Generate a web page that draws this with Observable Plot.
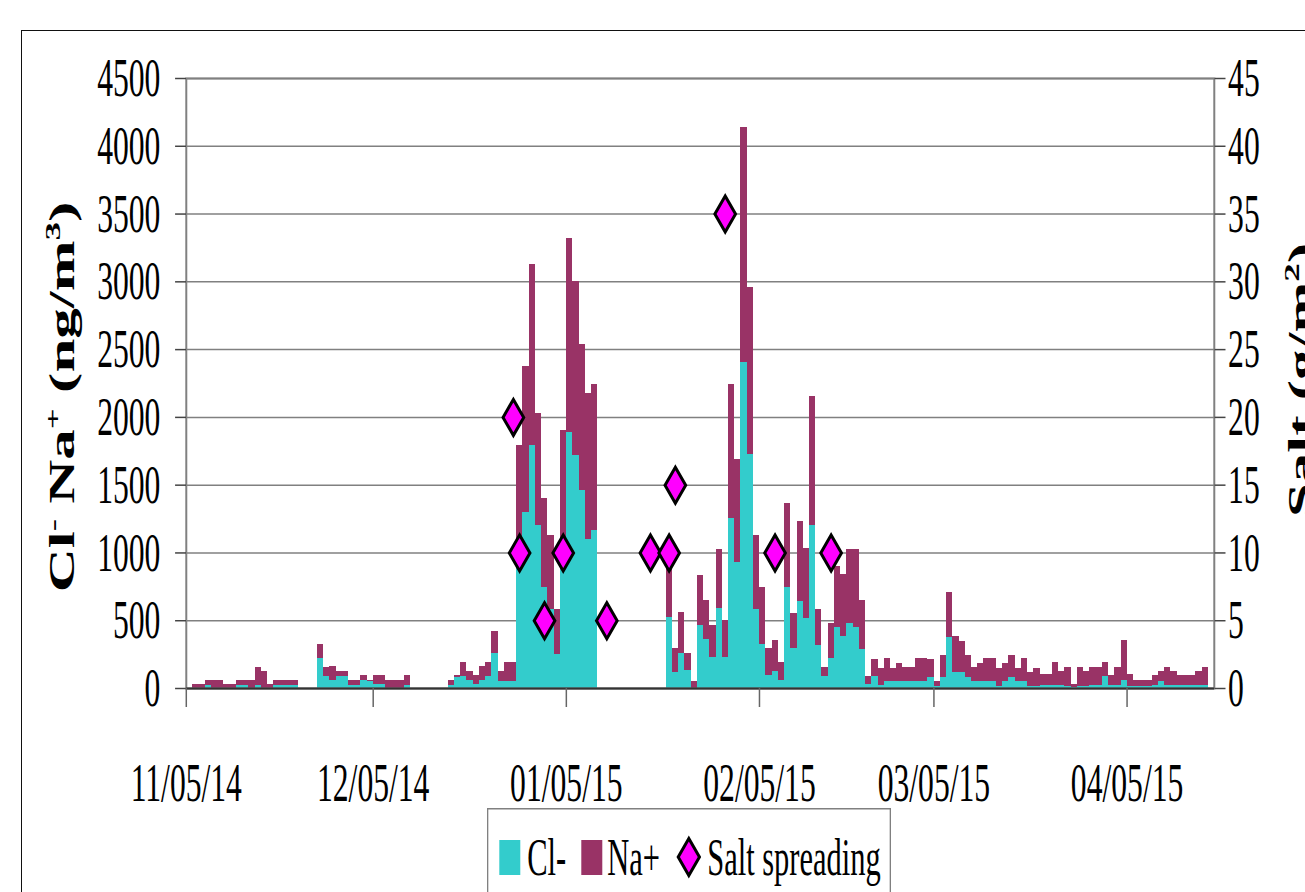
<!DOCTYPE html>
<html>
<head>
<meta charset="utf-8">
<script src="https://cdn.jsdelivr.net/npm/d3@7"></script>
<script src="https://cdn.jsdelivr.net/npm/@observablehq/plot@0.6"></script>
<style>
  body { margin: 0; background: #fff; }
  #page { position: relative; width: 1305px; height: 892px; overflow: hidden; background: #fff;
          font-family: 'Liberation Serif', 'Times New Roman', serif; }
  #chart { position: absolute; left: 0; top: 0; }
  #legend { position: absolute; left: 487px; top: 808px; }
  #frame { position: absolute; left: 21px; top: 30px; width: 1400px; height: 1000px;
           border: 1.5px solid #111; pointer-events: none; }
</style>
</head>
<body>
<div id="page"><div id="chart"></div><div id="legend"></div><div id="frame"></div></div>
<script>
// ---------------- data ----------------
const startDate = "2014-11-05";   // first day of the daily series / left edge of the axis
const endDate = "2015-04-19";     // right edge of the axis

// daily Cl- (ng/m3), one value per day starting at startDate
const clValues = [
  0,0,0,22,0,0,0,0,22,22,
  0,22,0,0,22,22,22,22,0,0,
  0,221,86,61,86,86,20,20,59,55,
  32,32,0,0,0,25,0,0,0,0,
  0,0,25,80,86,60,32,57,86,255,
  50,50,50,1000,1296,1790,1205,745,580,253,
  1050,1885,1721,1463,1099,1168,0,0,0,0,
  0,0,0,0,0,0,0,525,116,260,
  130,0,462,361,231,590,231,1254,926,2402,
  1729,584,326,93,126,62,745,295,640,517,
  1200,315,91,221,450,386,480,450,285,28,
  85,25,55,49,49,49,49,49,49,79,
  17,79,374,116,116,79,49,49,49,49,
  17,49,79,49,49,17,17,25,25,25,
  25,17,10,17,17,25,25,86,25,25,
  62,17,17,17,17,25,54,25,25,25,
  25,25,25,25
];
// daily Na+ (ng/m3), stacked on top of Cl-
const naValues = [
  0,32,32,37,59,59,32,32,37,37,
  59,133,125,32,37,37,37,37,0,0,
  0,104,69,104,39,39,39,39,37,5,
  64,64,59,59,59,71,0,0,0,0,
  0,0,32,16,104,63,64,103,104,165,
  73,140,140,790,1077,1338,825,655,550,330,
  850,1435,1279,1075,1077,1075,0,0,0,0,
  0,0,0,0,0,0,0,425,182,298,
  130,50,373,289,231,436,269,989,765,1734,
  1229,542,418,200,230,128,622,255,592,515,
  952,268,64,259,452,452,545,575,365,62,
  130,125,165,99,136,103,103,170,170,133,
  32,167,332,265,228,167,103,133,170,170,
  131,133,167,99,170,99,131,75,75,164,
  98,138,22,138,106,130,130,103,73,130,
  290,83,45,45,45,73,69,130,98,73,
  73,73,98,130
];

// salt spreading events (g/m2, right axis)
const spreadDates = ["2014-12-27","2014-12-28","2015-01-01","2015-01-04","2015-01-11",
                     "2015-01-18","2015-01-21","2015-01-22","2015-01-30","2015-02-07","2015-02-16"];
const spreadAmounts = [20,10,5,10,5,10,10,15,35,10,10];

const concTicks = [0,500,1000,1500,2000,2500,3000,3500,4000,4500];
const saltTicks = [0,5,10,15,20,25,30,35,40,45];
const dateTicks = ["2014-11-05","2014-12-05","2015-01-05","2015-02-05","2015-03-05","2015-04-05"];
const seriesNames = ["Cl-","Na+"];
const seriesColors = ["#33cccc","#993366"];
const spreadLabel = "Salt spreading";
const leftTitle = [["Cl",0],["-",1],[" Na",0],["+",1],[" (ng/m",0],["3",1],[")",0]];
const rightTitle = [["Salt (g/m",0],["2",1],[")",0]];

// ---------------- layout ----------------
const S = 0.575;               // the reference is drawn horizontally condensed
const FW = 1305, FH = 808;     // final size of the chart svg
const W = FW / S;
const utc = s => new Date(s + "T00:00:00Z");
const start = utc(startDate);

const rows = [];
clValues.forEach((v, i) => {
  const date = d3.utcDay.offset(start, i);
  rows.push({date, ion: seriesNames[0], value: v});
  rows.push({date, ion: seriesNames[1], value: naValues[i]});
});
const bars = rows.filter(d => d.value > 0);
const salt = spreadDates.map((d, i) => ({date: new Date(d + "T12:00:00Z"), amount: spreadAmounts[i]}));
const saltK = 4500 / 45;

const chart = Plot.plot({
  width: W, height: FH,
  marginLeft: 186 / S, marginRight: (FW - 1214) / S, marginTop: 78, marginBottom: FH - 688,
  style: {fontFamily: "'Liberation Serif','Times New Roman',serif", fontSize: "55px", color: "#000",
          background: "transparent", overflow: "visible"},
  x: {type: "utc", domain: [start, utc(endDate)]},
  y: {domain: [0, 4500]},
  color: {domain: seriesNames, range: seriesColors},
  marks: [
    Plot.gridY(concTicks, {stroke: "#808080", strokeOpacity: 1, strokeWidth: 1.5}),
    Plot.rectY(bars, {x: "date", y: "value", fill: "ion", interval: "day", inset: 0,
                      insetLeft: 0, insetRight: 0, shapeRendering: "crispEdges"}),
    Plot.frame({stroke: "#808080", strokeWidth: 2}),
    Plot.ruleY([0], {stroke: "#333", strokeWidth: 2}),
    Plot.axisY(concTicks, {anchor: "left", tickSize: 19, tickPadding: 26, stroke: "#444", strokeWidth: 1.5,
                           tickFormat: v => String(v), label: null, fill: "#000"}),
    Plot.axisY(saltTicks.map(v => v * saltK), {anchor: "right", tickSize: 19, tickPadding: 5, stroke: "#444",
                           strokeWidth: 1.5, tickFormat: v => String(v / saltK), label: null, fill: "#000"}),
    Plot.axisX(dateTicks.map(utc), {anchor: "bottom", tickSize: 19, tickPadding: 54, stroke: "#666",
                           strokeWidth: 1.5, tickFormat: d3.utcFormat("%m/%d/%y"), label: null, fill: "#000"}),
    Plot.dot(salt, {x: "date", y: d => d.amount * saltK, symbol: "diamond2", r: 16.2,
                    fill: "#ff00ff", stroke: "#000", strokeWidth: 3})
  ]
});

chart.setAttribute("width", FW);
chart.setAttribute("height", FH);
chart.setAttribute("preserveAspectRatio", "none");
chart.style.width = FW + "px";
chart.style.height = FH + "px";
chart.style.maxWidth = "none";
chart.querySelectorAll("line,path,rect").forEach(el => el.setAttribute("vector-effect", "non-scaling-stroke"));

// rotated axis titles with superscripts
const svg = d3.select(chart);
function rotTitle(x, y, parts) {
  const t = svg.append("text")
    .attr("transform", `translate(${x},${y}) rotate(-90)`)
    .attr("text-anchor", "middle").attr("font-weight", "bold").attr("font-size", 61)
    .attr("fill", "#000").style("white-space", "pre");
  let shift = 0;
  parts.forEach(([txt, sup]) => {
    const target = sup ? -25 : 0;
    t.append("tspan").attr("dy", target - shift).attr("font-size", sup ? 37 : 61).text(txt);
    shift = target;
  });
}
rotTitle(74 / S, 397, leftTitle);
rotTitle(1313 / S, 380, rightTitle);

document.getElementById("chart").appendChild(chart);

// ---------------- legend (below the svg) ----------------
const LW = 404, LH = 84;
const lsvg = d3.create("svg").attr("width", LW).attr("height", LH)
  .attr("viewBox", `0 0 ${LW / S} ${LH}`).attr("preserveAspectRatio", "none")
  .style("display", "block").style("font-family", "'Liberation Serif','Times New Roman',serif");
lsvg.append("rect").attr("x", 1).attr("y", 0.75).attr("width", LW / S - 2).attr("height", 200)
  .attr("fill", "#fff").attr("stroke", "#808080").attr("stroke-width", 1.5)
  .attr("vector-effect", "non-scaling-stroke");
const swX = [21.4, 164];
const txX = [70, 209];
seriesNames.forEach((name, i) => {
  lsvg.append("rect").attr("x", swX[i]).attr("y", 32).attr("width", 36.5).attr("height", 35)
    .attr("fill", seriesColors[i]);
  lsvg.append("text").attr("x", txX[i]).attr("y", 67).attr("font-size", 53).attr("fill", "#000").text(name);
});
const dcx = 351, dcy = 49, dh = 18.5;
lsvg.append("path").attr("d", `M${dcx},${dcy - dh}L${dcx + dh},${dcy}L${dcx},${dcy + dh}L${dcx - dh},${dcy}Z`)
  .attr("fill", "#ff00ff").attr("stroke", "#000").attr("stroke-width", 3)
  .attr("vector-effect", "non-scaling-stroke");
lsvg.append("text").attr("x", 383).attr("y", 67).attr("font-size", 53).attr("fill", "#000").text(spreadLabel);
document.getElementById("legend").appendChild(lsvg.node());
</script>
</body>
</html>
